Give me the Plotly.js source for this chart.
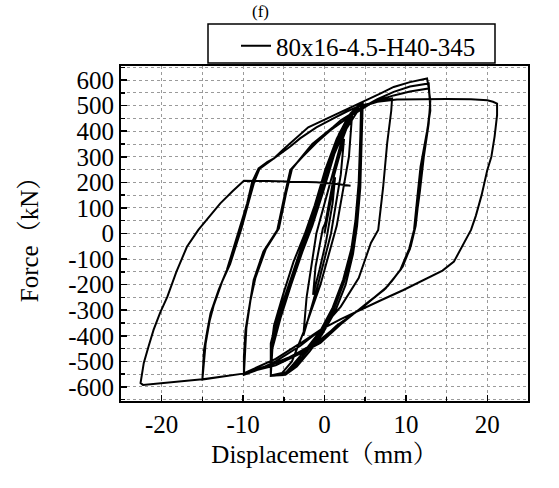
<!DOCTYPE html>
<html><head><meta charset="utf-8">
<script src="https://cdn.plot.ly/plotly-3.0.1.min.js"></script>
<style>html,body{margin:0;padding:0;background:#fff}</style>
</head><body><div id="chart" style="width:559px;height:488px"></div>
<script>
// ---- data (displacement mm, force kN), in loading order ----
const seriesName = '80x16-4.5-H40-345';
const panelLabel = '(f)';
const xTickVals = [-20, -10, 0, 10, 20];
const xTickText = ['-20', '-10', '0', '10', '20'];
const yTickVals = [-600, -500, -400, -300, -200, -100, 0, 100, 200, 300, 400, 500, 600];
const yTickText = ['-600', '-500', '-400', '-300', '-200', '-100', '0', '100', '200', '300', '400', '500', '600'];

// small elastic cycles
const dispE1 = [0, 0.7, 1.3, 1.0, 0.2, -0.6, -1.4, -1.1, -0.2, 0.1];
const forceE1 = [0, 120, 220, 120, -30, -140, -240, -130, 20, 40];
const dispE2 = [0.1, 1.2, 2.4, 2.0, 0.8, -0.8, -2.6, -2.2, -1.0, 0.3];
const forceE2 = [40, 230, 370, 230, 0, -200, -400, -250, 0, 150];
const dispE3 = [0.3, 2.0, 3.4, 3.0, 1.5, -0.5, -2.5, -4.0, -5.2, -6.6];
const forceE3 = [150, 350, 470, 300, 30, -200, -380, -500, -545, -555];

// cycles +4.5 / -6.6 mm
const dispR45a = [-6.6, -6.6, -5.8, -4.6, -3.2, -2.1, -0.8, 0.6, 1.8, 3.2, 4.5];
const forceR45a = [-555, -430, -330, -221, -90, 14, 140, 290, 390, 470, 510];
const dispU45a = [4.4, 4.2, 3.8, 3.3, 2.3, 1.0, -0.5, -2.2, -3.8, -5.0, -6.6];
const forceU45a = [380, 200, 50, -60, -180, -290, -380, -450, -510, -553, -555];
const dispR45b = [-6.5, -5.6, -4.3, -2.9, -1.8, -0.5, 0.9, 2.1, 3.4, 4.6];
const forceR45b = [-440, -330, -210, -80, 20, 150, 300, 395, 470, 512];
const dispU45b = [4.5, 4.3, 3.9, 3.4, 2.4, 1.1, -0.4, -2.0, -3.6, -4.9, -6.6];
const forceU45b = [370, 190, 40, -70, -190, -300, -390, -455, -515, -553, -556];
const dispR45c = [-6.4, -5.4, -4.1, -2.7, -1.5, -0.2, 1.2, 2.4, 3.6, 4.7];
const forceR45c = [-450, -330, -200, -70, 30, 160, 310, 400, 475, 514];
const dispU45c = [4.6, 4.4, 4.0, 3.5, 2.6, 1.3, -0.3, -1.8, -3.4, -4.8, -6.6];
const forceU45c = [360, 180, 30, -80, -200, -305, -395, -460, -520, -552, -557];
const dispR45d = [-6.6, -6.2, -5.1, -3.8, -2.4, -1.2, 0.1, 1.5, 2.7, 3.8, 4.6];
const forceR45d = [-460, -360, -240, -110, 0, 110, 250, 370, 445, 490, 511];
const dispU45d = [4.5, 4.3, 3.7, 3.0, 1.8, 0.3, -1.2, -2.8, -4.3, -5.4, -6.6];
const forceU45d = [350, 160, 10, -110, -240, -340, -420, -485, -535, -553, -556];

// cycle to +8.3 mm, back to -10 mm
const dispR83 = [-6.6, -5.7, -4.4, -2.9, -1.7, -0.4, 1.0, 2.5, 4.0, 5.5, 7.0, 8.3];
const forceR83 = [-440, -340, -221, -80, 30, 160, 300, 400, 475, 505, 520, 528];
const dispU83 = [8.2, 7.7, 7.2, 6.6, 5.7, 4.2, 2.0, -0.5, -3.0, -6.0, -8.0, -9.9];
const forceU83 = [480, 353, 180, 14, -37, -174, -286, -377, -440, -500, -530, -553];

// cycles to +13 mm
const dispR10a = [-9.9, -9.7, -9.2, -8.7, -7.5, -5.8, -4.9, -4.2, -2.7, -1.0, 0.74, 2.5, 4.5, 6.5, 8.5, 10.5, 12.8];
const forceR10a = [-481, -377, -270, -182, -70, 14, 150, 248, 300, 355, 404, 445, 490, 525, 554, 575, 587];
const dispU13a = [12.9, 13.0, 12.6, 12.2, 11.8, 11.4, 11.0, 10.4, 9.3, 8.3, 7.3, 5.5, 4.0, 2.0, -0.5, -3.0, -6.0, -10.0, -15.0];
const forceU13a = [540, 480, 400, 330, 261, 140, 14, -60, -143, -185, -221, -265, -305, -355, -428, -470, -515, -548, -570];
const dispR15a = [-14.9, -14.8, -14.4, -14.0, -13.0, -12.0, -11.2, -10.5, -9.5, -8.9, -8.1, -7.0, -6.2, -5.0, -3.8, -2.0, 0.74, 3.0, 4.8, 6.9, 8.5, 10.5, 12.6];
const forceR15a = [-500, -455, -380, -312, -220, -143, -60, 14, 118, 200, 255, 280, 294, 330, 365, 415, 456, 489, 515, 548, 573, 592, 606];
const dispU13b = [12.8, 13.0, 12.7, 12.1, 11.6, 11.2, 10.6, 9.6, 7.8, 5.0, 2.0, -0.5, -4.0, -7.5, -9.9];
const forceU13b = [570, 500, 420, 290, 150, 30, -50, -130, -205, -280, -350, -415, -480, -525, -551];
const dispR10b = [-9.9, -9.8, -9.6, -9.1, -8.5, -7.2, -5.6, -4.7, -4.0, -2.8, -1.5, 1.1, 2.0, 4.4, 6.5, 8.5, 10.5, 12.8];
const forceR10b = [-551, -470, -370, -262, -175, -60, 20, 160, 252, 300, 350, 417, 443, 490, 520, 540, 555, 567];
const dispU13c = [13.0, 12.8, 12.2, 11.7, 11.1, 10.5, 9.4, 7.5, 4.2, 1.5, -0.5, -5.0, -10.0, -15.0];
const forceU13c = [520, 430, 300, 160, 20, -60, -140, -215, -300, -360, -420, -495, -548, -571];

// cycle to +21 mm, back to -22.3 mm
const dispR15c = [-14.8, -14.6, -14.1, -13.6, -12.6, -11.6, -10.8, -10.2, -9.3, -8.6, -8.0, -6.0, -4.2, -3.0, -1.0, 1.1, 2.8, 4.4, 6.5, 8.9, 12.0, 15.0, 18.0, 20.0, 20.7, 21.2];
const forceR15c = [-480, -430, -340, -280, -190, -120, -40, 20, 125, 205, 252, 298, 340, 372, 415, 450, 478, 500, 515, 524, 526, 526, 525, 521, 515, 508];
const dispU21 = [21.2, 20.9, 20.5, 20.0, 19.3, 18.6, 18.0, 17.1, 15.9, 14.5, 13.0, 11.0, 9.7, 7.0, 4.4, 2.0, -0.5, -3.0, -6.0, -10.0, -15.0, -19.0, -22.3];
const forceU21 = [463, 380, 300, 248, 150, 70, 14, -37, -110, -145, -169, -200, -221, -260, -299, -335, -377, -430, -490, -548, -570, -582, -592];

// final reloading
const dispR22 = [-22.6, -22.5, -22.2, -21.6, -21.0, -20.2, -19.3, -18.2, -16.9, -15.5, -14.2, -12.8, -11.3, -9.9, -7.0, -4.0, -1.0, 1.5, 3.2];
const forceR22 = [-585, -560, -506, -440, -377, -310, -247, -150, -52, 14, 65, 118, 165, 206, 205, 203, 200, 194, 187];

const branches = [
  [dispE1, forceE1], [dispE2, forceE2], [dispE3, forceE3],
  [dispR45a, forceR45a], [dispU45a, forceU45a],
  [dispR45b, forceR45b], [dispU45b, forceU45b],
  [dispR45c, forceR45c], [dispU45c, forceU45c],
  [dispR45d, forceR45d], [dispU45d, forceU45d],
  [dispR83, forceR83], [dispU83, forceU83],
  [dispR10a, forceR10a], [dispU13a, forceU13a],
  [dispR15a, forceR15a], [dispU13b, forceU13b],
  [dispR10b, forceR10b], [dispU13c, forceU13c],
  [dispR15c, forceR15c], [dispU21, forceU21],
  [dispR22, forceR22]
];
const xs = [], ys = [];
branches.forEach(([d, f]) => { xs.push(...d); ys.push(...f); });

const FONT = 'Liberation Serif, Times New Roman, Noto Serif CJK SC, Noto Sans CJK SC, serif';
const GRID = '#9a9a9a';

const trace = {
  type: 'scatter', mode: 'lines', x: xs, y: ys, name: seriesName,
  line: { color: '#000', width: 2 }
};

const layout = {
  width: 559, height: 488,
  margin: { l: 121, r: 31, t: 66, b: 87 },
  paper_bgcolor: '#fff', plot_bgcolor: '#fff',
  font: { family: FONT, color: '#000', size: 25 },
  showlegend: true,
  legend: {
    x: (236 - 121) / 407, y: (401 - 23) / 335, xanchor: 'left', yanchor: 'top',
    bgcolor: 'rgba(0,0,0,0)', borderwidth: 0, font: { family: FONT, size: 25, color: '#000' }
  },
  xaxis: {
    range: [-25, 25], tickmode: 'array', tickvals: xTickVals, ticktext: xTickText,
    ticks: 'inside', ticklen: 6, tickwidth: 1.5, tickcolor: '#000',
    showline: true, linewidth: 2, linecolor: '#000', mirror: true,
    showgrid: true, gridcolor: GRID, griddash: 'dot', gridwidth: 1, zeroline: false,
    tickfont: { family: FONT, size: 25, color: '#000' },
    title: { text: 'Displacement（mm）', font: { family: FONT, size: 25, color: '#000' }, standoff: 8 },
    minor: { tickmode: 'linear', tick0: 0, dtick: 5, ticks: 'inside', ticklen: 4, tickcolor: '#000',
             showgrid: true, gridcolor: GRID, griddash: 'dot', gridwidth: 1 },
    automargin: false
  },
  yaxis: {
    range: [-655, 655], tickmode: 'array', tickvals: yTickVals, ticktext: yTickText,
    ticks: 'inside', ticklen: 6, tickwidth: 1.5, tickcolor: '#000',
    showline: true, linewidth: 2, linecolor: '#000', mirror: true,
    showgrid: true, gridcolor: GRID, griddash: 'dot', gridwidth: 1, zeroline: false,
    tickfont: { family: FONT, size: 25, color: '#000' },
    title: { text: 'Force（kN）', font: { family: FONT, size: 25, color: '#000' }, standoff: 22 },
    minor: { tickmode: 'linear', tick0: 0, dtick: 50, ticks: 'inside', ticklen: 4, tickcolor: '#000',
             showgrid: true, gridcolor: GRID, griddash: 'dot', gridwidth: 1 },
    automargin: false
  },
  shapes: [{
    type: 'rect', xref: 'paper', yref: 'paper',
    x0: (208 - 121) / 407, x1: (495 - 121) / 407, y0: (401 - 63) / 335, y1: (401 - 24) / 335,
    line: { color: '#000', width: 1.5 }, fillcolor: 'rgba(0,0,0,0)'
  }],
  annotations: [{
    text: panelLabel, xref: 'paper', yref: 'paper', x: (260 - 121) / 407, y: (401 - 1) / 335,
    xanchor: 'center', yanchor: 'top', showarrow: false, borderpad: 0,
    font: { family: FONT, size: 17, color: '#000' }
  }]
};

Plotly.newPlot('chart', [trace], layout, { staticPlot: true, displayModeBar: false });
</script></body></html>
